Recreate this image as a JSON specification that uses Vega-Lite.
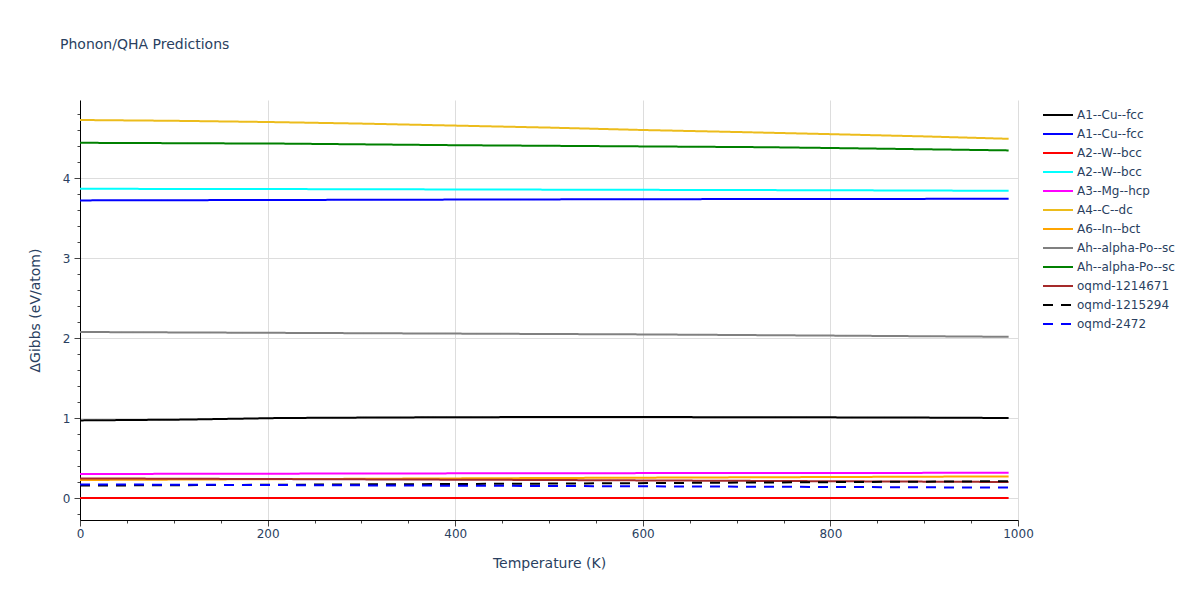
{
  "$schema": "https://vega.github.io/schema/vega-lite/v6.json",
  "autosize": {"type": "none"},
  "padding": {"left": 80, "top": 100, "right": 182, "bottom": 80},
  "width": 938,
  "height": 420,
  "background": "white",
  "title": {"text": "Phonon/QHA Predictions", "anchor": "start", "frame": "group", "dx": -20, "offset": 48, "fontSize": 14, "font": "DejaVu Sans", "fontWeight": "normal", "color": "#2a3f5f"},
  "config": {"view": {"stroke": null}, "font": "DejaVu Sans"},
  "data": {"values": [
    {"s": "A1--Cu--fcc", "T": 0, "G": 0.97}, {"s": "A1--Cu--fcc", "T": 110, "G": 0.98}, {"s": "A1--Cu--fcc", "T": 215, "G": 1.0}, {"s": "A1--Cu--fcc", "T": 300, "G": 1.005}, {"s": "A1--Cu--fcc", "T": 400, "G": 1.01}, {"s": "A1--Cu--fcc", "T": 500, "G": 1.012}, {"s": "A1--Cu--fcc", "T": 600, "G": 1.012}, {"s": "A1--Cu--fcc", "T": 700, "G": 1.01}, {"s": "A1--Cu--fcc", "T": 800, "G": 1.008}, {"s": "A1--Cu--fcc", "T": 900, "G": 1.005}, {"s": "A1--Cu--fcc", "T": 990, "G": 1.0},
    {"s": "A1--Cu--fcc ", "T": 0, "G": 3.72}, {"s": "A1--Cu--fcc ", "T": 200, "G": 3.725}, {"s": "A1--Cu--fcc ", "T": 400, "G": 3.73}, {"s": "A1--Cu--fcc ", "T": 600, "G": 3.735}, {"s": "A1--Cu--fcc ", "T": 800, "G": 3.738}, {"s": "A1--Cu--fcc ", "T": 990, "G": 3.74},
    {"s": "A2--W--bcc", "T": 0, "G": 0}, {"s": "A2--W--bcc", "T": 500, "G": 0}, {"s": "A2--W--bcc", "T": 990, "G": 0},
    {"s": "A2--W--bcc ", "T": 0, "G": 3.865}, {"s": "A2--W--bcc ", "T": 200, "G": 3.862}, {"s": "A2--W--bcc ", "T": 400, "G": 3.857}, {"s": "A2--W--bcc ", "T": 600, "G": 3.852}, {"s": "A2--W--bcc ", "T": 800, "G": 3.847}, {"s": "A2--W--bcc ", "T": 990, "G": 3.84},
    {"s": "A3--Mg--hcp", "T": 0, "G": 0.30}, {"s": "A3--Mg--hcp", "T": 500, "G": 0.31}, {"s": "A3--Mg--hcp", "T": 990, "G": 0.315},
    {"s": "A4--C--dc", "T": 0, "G": 4.725}, {"s": "A4--C--dc", "T": 100, "G": 4.715}, {"s": "A4--C--dc", "T": 200, "G": 4.70}, {"s": "A4--C--dc", "T": 300, "G": 4.68}, {"s": "A4--C--dc", "T": 400, "G": 4.655}, {"s": "A4--C--dc", "T": 500, "G": 4.63}, {"s": "A4--C--dc", "T": 600, "G": 4.60}, {"s": "A4--C--dc", "T": 700, "G": 4.575}, {"s": "A4--C--dc", "T": 800, "G": 4.548}, {"s": "A4--C--dc", "T": 900, "G": 4.52}, {"s": "A4--C--dc", "T": 990, "G": 4.49},
    {"s": "A6--In--bct", "T": 0, "G": 0.225}, {"s": "A6--In--bct", "T": 500, "G": 0.25}, {"s": "A6--In--bct", "T": 990, "G": 0.27},
    {"s": "Ah--alpha-Po--sc", "T": 0, "G": 2.075}, {"s": "Ah--alpha-Po--sc", "T": 200, "G": 2.065}, {"s": "Ah--alpha-Po--sc", "T": 400, "G": 2.055}, {"s": "Ah--alpha-Po--sc", "T": 600, "G": 2.045}, {"s": "Ah--alpha-Po--sc", "T": 800, "G": 2.03}, {"s": "Ah--alpha-Po--sc", "T": 990, "G": 2.015},
    {"s": "Ah--alpha-Po--sc ", "T": 0, "G": 4.44}, {"s": "Ah--alpha-Po--sc ", "T": 215, "G": 4.43}, {"s": "Ah--alpha-Po--sc ", "T": 400, "G": 4.41}, {"s": "Ah--alpha-Po--sc ", "T": 600, "G": 4.395}, {"s": "Ah--alpha-Po--sc ", "T": 730, "G": 4.385}, {"s": "Ah--alpha-Po--sc ", "T": 800, "G": 4.375}, {"s": "Ah--alpha-Po--sc ", "T": 990, "G": 4.345},
    {"s": "oqmd-1214671", "T": 0, "G": 0.245}, {"s": "oqmd-1214671", "T": 500, "G": 0.225}, {"s": "oqmd-1214671", "T": 990, "G": 0.2},
    {"s": "oqmd-1215294", "T": 0, "G": 0.155}, {"s": "oqmd-1215294", "T": 500, "G": 0.18}, {"s": "oqmd-1215294", "T": 990, "G": 0.21},
    {"s": "oqmd-2472", "T": 0, "G": 0.17}, {"s": "oqmd-2472", "T": 500, "G": 0.15}, {"s": "oqmd-2472", "T": 990, "G": 0.13}
  ]},
  "mark": {"type": "line", "strokeWidth": 2, "clip": true},
  "encoding": {
    "x": {"field": "T", "type": "quantitative", "scale": {"domain": [0, 1000], "nice": false},
      "axis": {"title": "Temperature (K)", "titleFont": "DejaVu Sans", "titleFontSize": 14, "titleFontWeight": "normal", "titleColor": "#2a3f5f", "titlePadding": 17,
        "values": [0,50,100,150,200,250,300,350,400,450,500,550,600,650,700,750,800,850,900,950,1000],
        "labelExpr": "datum.value % 200 === 0 ? format(datum.value, 'd') : ''",
        "labelFontSize": 12, "labelColor": "#2a3f5f", "labelPadding": 2, "labelFlush": false,
        "domainColor": "#000000", "domainWidth": 1,
        "tickColor": "#444444", "tickSize": {"condition": {"test": "datum.value % 200 === 0", "value": 6}, "value": 3},
        "grid": true, "gridColor": "#dddddd", "gridOpacity": {"condition": {"test": "datum.value % 200 === 0", "value": 1}, "value": 0}}},
    "y": {"field": "G", "type": "quantitative", "scale": {"domain": [-0.275, 4.975], "nice": false, "zero": false},
      "axis": {"title": "ΔGibbs (eV/atom)", "titleFont": "DejaVu Sans", "titleFontSize": 14, "titleFontWeight": "normal", "titleColor": "#2a3f5f", "titlePadding": 20,
        "values": [-0.2,0,0.2,0.4,0.6,0.8,1,1.2,1.4,1.6,1.8,2,2.2,2.4,2.6,2.8,3,3.2,3.4,3.6,3.8,4,4.2,4.4,4.6,4.8],
        "labelExpr": "abs(datum.value - round(datum.value)) < 1e-6 ? format(datum.value, 'd') : ''",
        "labelFontSize": 12, "labelColor": "#2a3f5f", "labelPadding": 4,
        "domainColor": "#000000", "domainWidth": 1,
        "tickColor": "#444444", "tickSize": {"condition": {"test": "abs(datum.value - round(datum.value)) < 1e-6", "value": 6}, "value": 3},
        "grid": true, "gridColor": "#dddddd", "gridOpacity": {"condition": {"test": "abs(datum.value - round(datum.value)) < 1e-6", "value": 1}, "value": 0}}},
    "color": {"field": "s", "type": "nominal", "sort": null, "title": null,
      "scale": {"domain": ["A1--Cu--fcc", "A1--Cu--fcc ", "A2--W--bcc", "A2--W--bcc ", "A3--Mg--hcp", "A4--C--dc", "A6--In--bct", "Ah--alpha-Po--sc", "Ah--alpha-Po--sc ", "oqmd-1214671", "oqmd-1215294", "oqmd-2472"],
        "range": ["#000000", "#0000ff", "#ff0000", "#00ffff", "#ff00ff", "#ecbc1c", "#ffa500", "#808080", "#008000", "#a52a2a", "#000000", "#0000ff"]},
      "legend": {"orient": "none", "legendX": 968, "legendY": 5, "symbolType": "M-1.667,0H1.667", "symbolSize": 324, "symbolStrokeWidth": 2, "labelFontSize": 12, "labelColor": "#2a3f5f", "labelFont": "DejaVu Sans", "rowPadding": 3, "labelOffset": 9}},
    "strokeDash": {"field": "s", "type": "nominal", "sort": null, "title": null,
      "scale": {"domain": ["A1--Cu--fcc", "A1--Cu--fcc ", "A2--W--bcc", "A2--W--bcc ", "A3--Mg--hcp", "A4--C--dc", "A6--In--bct", "Ah--alpha-Po--sc", "Ah--alpha-Po--sc ", "oqmd-1214671", "oqmd-1215294", "oqmd-2472"],
        "range": [[1,0],[1,0],[1,0],[1,0],[1,0],[1,0],[1,0],[1,0],[1,0],[1,0],[10,8],[10,8]]},
      "legend": {"orient": "none", "legendX": 968, "legendY": 5, "symbolType": "M-1.667,0H1.667", "symbolSize": 324, "symbolStrokeWidth": 2, "labelFontSize": 12, "labelColor": "#2a3f5f", "labelFont": "DejaVu Sans", "rowPadding": 3, "labelOffset": 9}}
  }
}
